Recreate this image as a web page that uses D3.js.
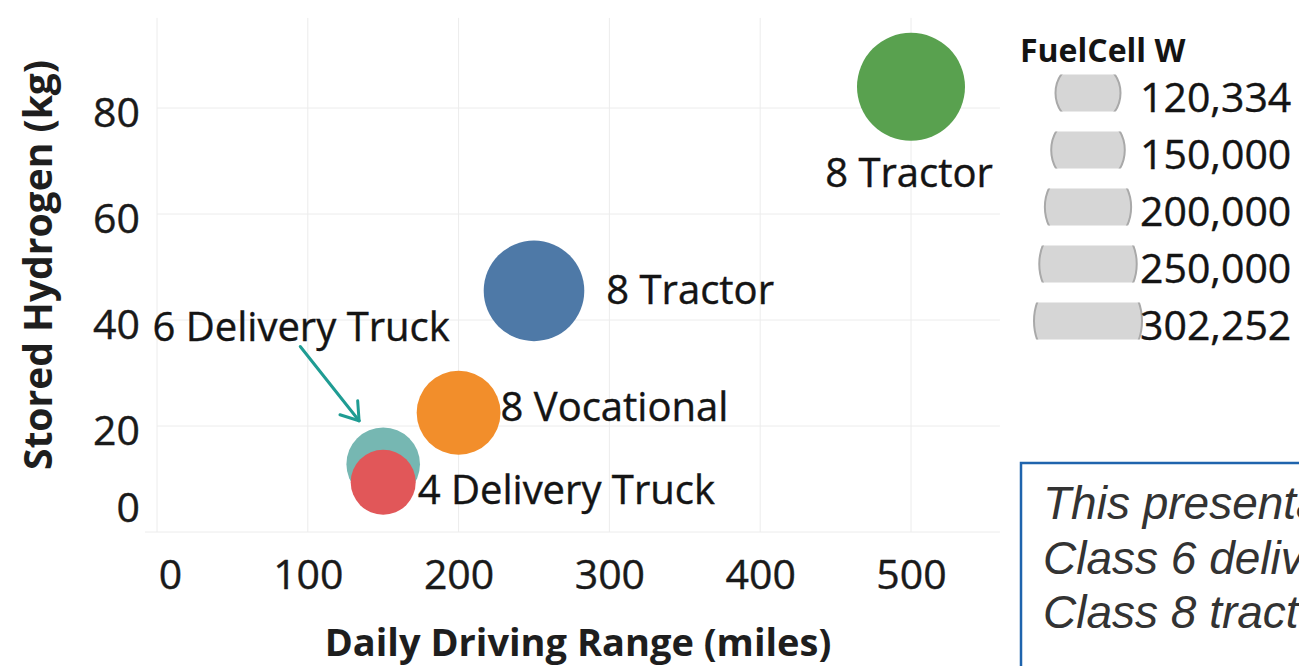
<!DOCTYPE html>
<html>
<head>
<meta charset="utf-8">
<title>Stored Hydrogen vs Daily Driving Range</title>
<script src="https://cdnjs.cloudflare.com/ajax/libs/d3/7.8.5/d3.min.js"></script>
<style>
  body { margin: 0; background: #fff; }
  svg { display: block; font-family: "Open Sans", sans-serif; }
  .grid line { stroke: #ececec; stroke-width: 1; }
  .axis path { display: none; }
  .axis text { font-family: "Open Sans", sans-serif; font-size: 41px; fill: #1a1a1a; stroke: #1a1a1a; stroke-width: 0.4px; }
  .title { font-weight: bold; font-size: 38px; fill: #1e1e1e; }
  .label { font-size: 40px; fill: #141414; stroke: #141414; stroke-width: 0.4px; }
  .legend text { font-size: 41px; fill: #141414; stroke: #141414; stroke-width: 0.4px; }
  .note text { font-family: "Liberation Sans", Arial, sans-serif; font-style: italic; font-size: 46px; fill: #333; }
</style>
</head>
<body>
<svg width="1299" height="666"></svg>
<script>
// values
var vehicles   = ["8 Tractor", "8 Tractor", "8 Vocational", "6 Delivery Truck", "4 Delivery Truck"];
var rangeMiles = [500, 250, 200, 150, 150];
var storedH2   = [84, 45.5, 22.5, 12.8, 9.4];
var fuelCellW  = [302252, 265000, 190000, 150000, 120334];
var colors     = ["#59a14f", "#4e79a7", "#f28e2b", "#76b7b2", "#e15759"];

var xTicks = [0, 100, 200, 300, 400, 500];
var yTicks = [0, 20, 40, 60, 80];
var legendValues = [120334, 150000, 200000, 250000, 302252];
var legendLabels = ["120,334", "150,000", "200,000", "250,000", "302,252"];

var noteLines = ["This presentation", "Class 6 delivery", "Class 8 tractors"];

var svg = d3.select("svg");

var x = d3.scaleLinear().domain([0, 500]).range([157, 911]);
var y = d3.scaleLinear().domain([0, 80]).range([532, 108]);
var r = d3.scaleSqrt().domain([120334, 302252]).range([32.5, 54]);

var data = vehicles.map(function(v, i) {
  return {name: v, x: rangeMiles[i], y: storedH2[i], w: fuelCellW[i], color: colors[i]};
});

// gridlines
var grid = svg.append("g").attr("class", "grid");
grid.selectAll(".vx").data(xTicks).enter().append("line")
    .attr("x1", function(d) { return x(d); }).attr("x2", function(d) { return x(d); })
    .attr("y1", y(0)).attr("y2", y(97));
grid.selectAll(".hy").data(yTicks).enter().append("line")
    .attr("x1", function(d) { return d === 0 ? x(-8) : x(0); }).attr("x2", x(559))
    .attr("y1", function(d) { return y(d); }).attr("y2", function(d) { return y(d); });

// axes
var gx = svg.append("g").attr("class", "axis")
    .attr("transform", "translate(0," + y(0) + ")")
    .call(d3.axisBottom(x).tickValues(xTicks).tickSize(0).tickPadding(28));
gx.selectAll("text").filter(function(d) { return d === 0; }).attr("dx", "13");

var gy = svg.append("g").attr("class", "axis")
    .attr("transform", "translate(" + x(0) + ",0)")
    .call(d3.axisLeft(y).tickValues(yTicks).tickSize(0).tickPadding(17));
gy.selectAll("text").attr("dy", "0.45em");
gy.selectAll("text").filter(function(d) { return d === 0; }).attr("y", -29);

svg.append("text").attr("class", "title")
    .attr("transform", "translate(52,265) rotate(-90)")
    .attr("text-anchor", "middle")
    .style("font-size", "39px")
    .text("Stored Hydrogen (kg)");

svg.append("text").attr("class", "title")
    .attr("x", 578).attr("y", 656)
    .attr("text-anchor", "middle")
    .text("Daily Driving Range (miles)");

// bubbles, biggest first
var sorted = data.slice().sort(function(a, b) { return b.w - a.w; });
svg.append("g").selectAll("circle").data(sorted).enter().append("circle")
    .attr("cx", function(d) { return x(d.x); })
    .attr("cy", function(d) { return y(d.y); })
    .attr("r", function(d) { return r(d.w); })
    .attr("fill", function(d) { return d.color; });

// labels
var lab = svg.append("g");
data.forEach(function(d, i) {
  var cx = x(d.x), cy = y(d.y), rr = r(d.w);
  var t = lab.append("text").attr("class", "label").text(d.name);
  if (i === 0) {
    t.attr("x", cx - 2).attr("y", cy + rr + 46).attr("text-anchor", "middle");
  } else if (i === 1) {
    t.attr("x", cx + rr + 22).attr("y", cy + 13);
  } else if (i === 2) {
    t.attr("x", cx + rr).attr("y", cy + 8);
  } else if (i === 3) {
    t.attr("x", x(-3)).attr("y", y(36));
  } else {
    t.attr("x", cx + rr + 2).attr("y", cy + 22);
  }
});

// arrow pointing at the 6 Delivery Truck bubble
var ax0 = x(95), ay0 = y(35), ax1 = x(134), ay1 = y(21);
var arrow = svg.append("g").attr("stroke", "#1f9c93").attr("stroke-width", 3)
    .attr("fill", "none").attr("stroke-linecap", "round");
arrow.append("line").attr("x1", ax0).attr("y1", ay0).attr("x2", ax1).attr("y2", ay1);
var ang = Math.atan2(ay1 - ay0, ax1 - ax0);
[-0.6, 0.6].forEach(function(a) {
  arrow.append("line")
      .attr("x1", ax1).attr("y1", ay1)
      .attr("x2", ax1 - 20 * Math.cos(ang + a))
      .attr("y2", ay1 - 20 * Math.sin(ang + a));
});

// size legend
var legend = svg.append("g").attr("class", "legend");
legend.append("text").attr("x", 1020).attr("y", 62)
    .style("font-weight", "bold").style("font-size", "32px").style("stroke", "none")
    .text("FuelCell W");

var rowH = 37;
legendValues.forEach(function(v, i) {
  var cy = 93 + i * 57;
  var id = "clip" + i;
  legend.append("clipPath").attr("id", id)
    .append("rect").attr("x", 1000).attr("y", cy - rowH / 2).attr("width", 200).attr("height", rowH);
  legend.append("circle")
      .attr("cx", 1088).attr("cy", cy).attr("r", r(v))
      .attr("fill", "#d6d6d6").attr("stroke", "#a9a9a9").attr("stroke-width", 2)
      .attr("clip-path", "url(#" + id + ")");
  legend.append("text").attr("x", 1140).attr("y", cy + 19).text(legendLabels[i]);
});

// note box, cut off by the page edge
var note = svg.append("g").attr("class", "note");
note.append("rect").attr("x", 1021).attr("y", 463).attr("width", 400).attr("height", 300)
    .attr("fill", "#fff").attr("stroke", "#1f64ad").attr("stroke-width", 2.5);
note.selectAll("text").data(noteLines).enter().append("text")
    .attr("x", 1043).attr("y", function(d, i) { return 519 + i * 54.5; })
    .text(function(d) { return d; });
</script>
</body>
</html>
